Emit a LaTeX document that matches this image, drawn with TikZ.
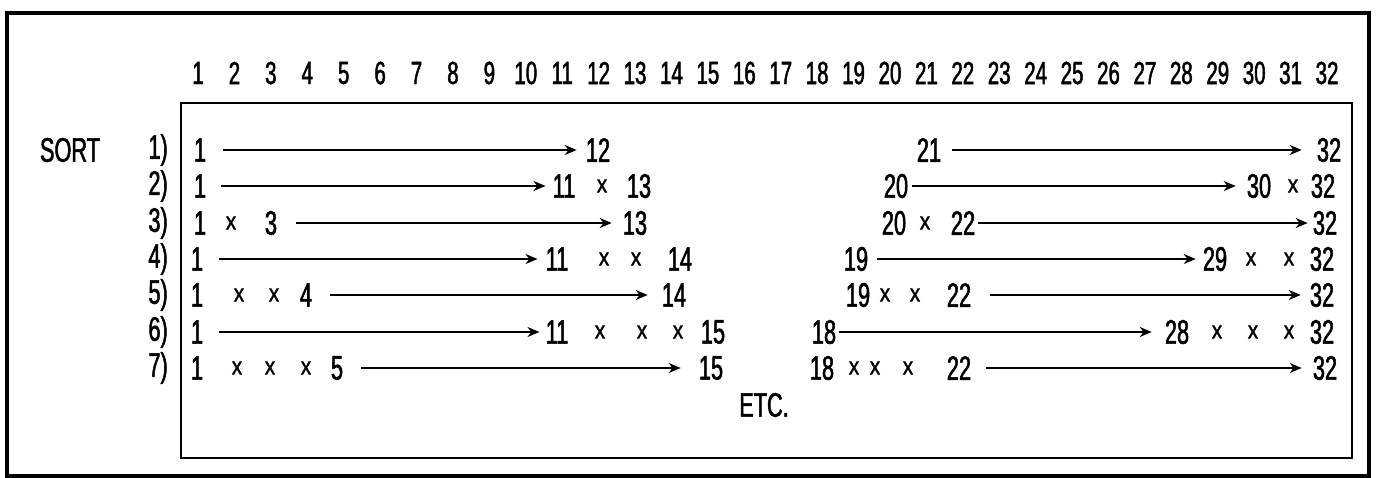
\documentclass[tikz,border=0pt]{standalone}
\usepackage{fontspec}
\setmainfont[FakeStretch=0.64,FakeBold=1.5]{Liberation Sans}
\newfontfamily\crossfont[FakeStretch=0.85,FakeBold=1.5]{Liberation Sans}
\usetikzlibrary{arrows.meta}
\tikzset{
  tok/.style={inner sep=0pt, font=\fontsize{34}{34}\selectfont},
  crs/.style={inner sep=0pt, font=\crossfont\fontsize{24}{24}\selectfont},
  hdr/.style={inner sep=0pt, font=\fontsize{32}{32}\selectfont},
  arr/.style={line width=2pt, -{Stealth[length=12pt,width=10pt]}},
  frame/.style={line width=4pt},
  inbox/.style={line width=2pt},
}
\newcommand\conn[4]{\draw[arr] ([xshift=#3pt]#1.east) -- ([xshift=-#4pt]#2.west);}
\begin{document}
\begin{tikzpicture}[x=1pt,y=-1pt]
\useasboundingbox (0,0) rectangle (1378,478);
% frames
\draw[frame] (7,13) rectangle (1369,476);
\draw[inbox] (181,103) rectangle (1352,458);
% header
\foreach \k in {1,...,32} \node[hdr] (h\k) at ({198+36.42*(\k-1)},73) {\k};
% labels
\node[tok] (sort) at (70,150) {SORT};
\foreach \r/\yy in {1/150,2/186,3/223,4/259,5/295,6/332,7/368}
  \node[tok, anchor=east] (r\r) at (168,\yy) {\r)};
% row 1
\node[tok] (a1) at (200,150) {1};
\node[tok] (b1) at (598,150) {12};
\conn{a1}{b1}{17}{9}
\node[tok] (c1) at (929,150) {21};
\node[tok] (d1) at (1329,150) {32};
\conn{c1}{d1}{11}{15}
% row 2
\node[tok] (a2) at (200,186) {1};
\node[tok] (b2) at (564,186) {11};
\node[crs] (b2x) at (602,186) {x};
\node[tok] (b2e) at (639,186) {13};
\conn{a2}{b2}{15}{7}
\node[tok] (c2) at (896,186) {20};
\node[tok] (d2) at (1259,186) {30};
\node[crs] (d2x) at (1293,186) {x};
\node[tok] (d2e) at (1323,186) {32};
\conn{c2}{d2}{4}{11}
% row 3
\node[tok] (a3s) at (200,223) {1};
\node[crs] (a3x) at (231,223) {x};
\node[tok] (a3) at (271,223) {3};
\node[tok] (b3) at (635,223) {13};
\conn{a3}{b3}{19}{11}
\node[tok] (c3s) at (894,223) {20};
\node[crs] (c3x) at (925,223) {x};
\node[tok] (c3) at (963,223) {22};
\node[tok] (d3) at (1325,223) {32};
\conn{c3}{d3}{3}{5}
% row 4
\node[tok] (a4) at (197,259) {1};
\node[tok] (b4) at (557,259) {11};
\node[crs] (b4x) at (604,259) {x};
\node[crs] (b4y) at (636,259) {x};
\node[tok] (b4e) at (680,259) {14};
\conn{a4}{b4}{16}{8}
\node[tok] (c4) at (856,259) {19};
\node[tok] (d4) at (1215,259) {29};
\node[crs] (d4x) at (1251,259) {x};
\node[crs] (d4y) at (1289,259) {x};
\node[tok] (d4e) at (1322,259) {32};
\conn{c4}{d4}{9}{7}
% row 5
\node[tok] (a5s) at (197,295) {1};
\node[crs] (a5x) at (239,295) {x};
\node[crs] (a5y) at (274,295) {x};
\node[tok] (a5) at (306,295) {4};
\node[tok] (b5) at (674,295) {14};
\conn{a5}{b5}{18}{14}
\node[tok] (c5s) at (858,295) {19};
\node[crs] (c5x) at (885,295) {x};
\node[crs] (c5y) at (915,295) {x};
\node[tok] (c5) at (959,295) {22};
\node[tok] (d5) at (1322,295) {32};
\conn{c5}{d5}{19}{9}
% row 6
\node[tok] (a6) at (197,332) {1};
\node[tok] (b6) at (557,332) {11};
\node[crs] (b6x) at (600,332) {x};
\node[crs] (b6y) at (642,332) {x};
\node[crs] (b6z) at (678,332) {x};
\node[tok] (b6e) at (713,332) {15};
\conn{a6}{b6}{16}{6}
\node[tok] (c6) at (824,332) {18};
\node[tok] (d6) at (1177,332) {28};
\node[crs] (d6x) at (1217,332) {x};
\node[crs] (d6y) at (1253,332) {x};
\node[crs] (d6z) at (1289,332) {x};
\node[tok] (d6e) at (1322,332) {32};
\conn{c6}{d6}{3}{13}
% row 7
\node[tok] (a7s) at (197,368) {1};
\node[crs] (a7x) at (237,368) {x};
\node[crs] (a7y) at (270,368) {x};
\node[crs] (a7z) at (306,368) {x};
\node[tok] (a7) at (337,368) {5};
\node[tok] (b7) at (711,368) {15};
\conn{a7}{b7}{18}{18}
\node[tok] (c7s) at (822,368) {18};
\node[crs] (c7x) at (854,368) {x};
\node[crs] (c7y) at (875,368) {x};
\node[crs] (c7z) at (908,368) {x};
\node[tok] (c7) at (959,368) {22};
\node[tok] (d7) at (1325,368) {32};
\conn{c7}{d7}{15}{11}
% etc
\node[tok] (etc) at (764,405) {ETC.};
\end{tikzpicture}
\end{document}
